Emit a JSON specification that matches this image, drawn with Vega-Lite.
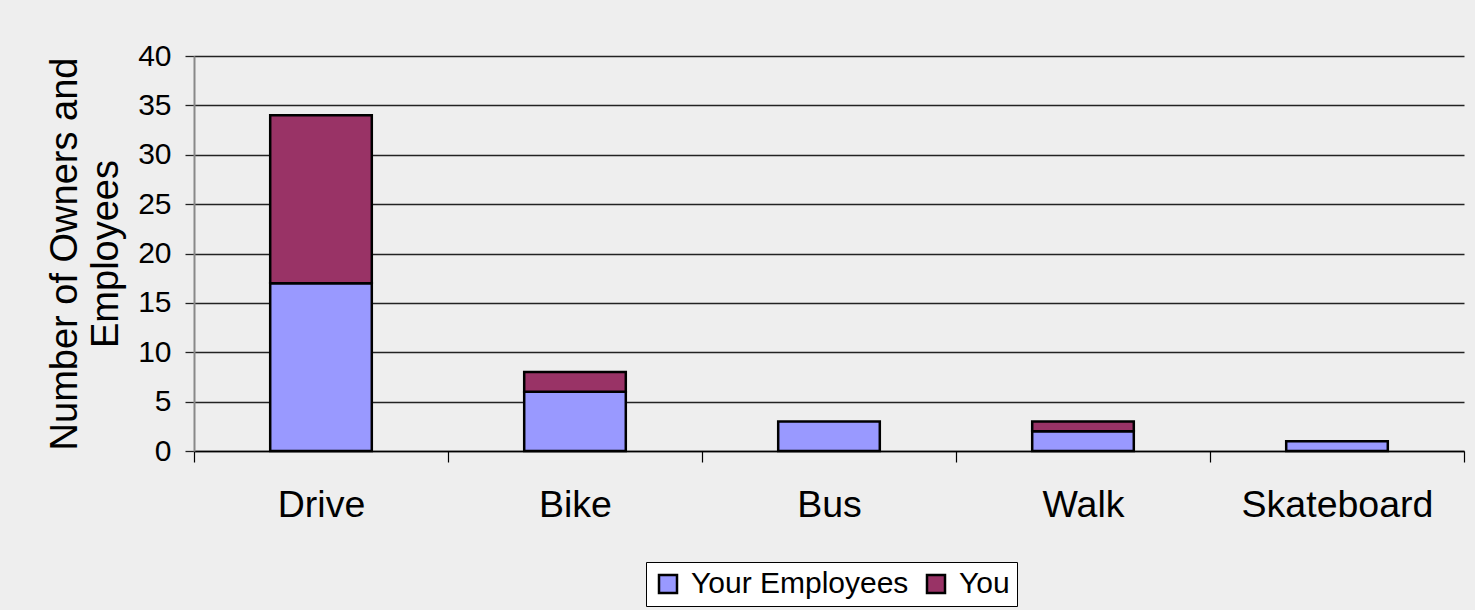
{
  "$schema": "https://vega.github.io/schema/vega-lite/v6.json",
  "autosize": {"type": "none"},
  "width": 1270,
  "height": 395,
  "padding": {"left": 194, "top": 56, "right": 11, "bottom": 159},
  "background": "#eeeeee",
  "config": {
    "font": "Liberation Sans",
    "view": {"stroke": null}
  },
  "data": {
    "values": [
      {"mode": "Drive", "group": "Your Employees", "ord": 1, "count": 17},
      {"mode": "Drive", "group": "You", "ord": 2, "count": 17},
      {"mode": "Bike", "group": "Your Employees", "ord": 1, "count": 6},
      {"mode": "Bike", "group": "You", "ord": 2, "count": 2},
      {"mode": "Bus", "group": "Your Employees", "ord": 1, "count": 3},
      {"mode": "Walk", "group": "Your Employees", "ord": 1, "count": 2},
      {"mode": "Walk", "group": "You", "ord": 2, "count": 1},
      {"mode": "Skateboard", "group": "Your Employees", "ord": 1, "count": 1}
    ]
  },
  "mark": {"type": "bar", "stroke": "#000000", "strokeWidth": 2.5, "width": {"band": 0.4}},
  "encoding": {
    "x": {
      "field": "mode",
      "type": "nominal",
      "sort": ["Drive", "Bike", "Bus", "Walk", "Skateboard"],
      "scale": {"paddingInner": 0, "paddingOuter": 0},
      "axis": {
        "title": null,
        "labelAngle": 0,
        "labelFontSize": 37.5,
        "labelColor": "#000000",
        "labelPadding": 24,
        "labelLimit": 0,
        "tickBand": "extent",
        "tickSize": 11,
        "tickColor": "#000000",
        "tickWidth": 1.2,
        "domainColor": "#000000",
        "domainWidth": 1.5
      }
    },
    "y": {
      "field": "count",
      "type": "quantitative",
      "stack": "zero",
      "scale": {"domain": [0, 40], "nice": false},
      "axis": {
        "values": [0, 5, 10, 15, 20, 25, 30, 35, 40],
        "title": ["Number of Owners and", "Employees"],
        "titleFontSize": 38,
        "titleFontWeight": "normal",
        "titleColor": "#000000",
        "titleLineHeight": 41,
        "titlePadding": 12,
        "labelFontSize": 30,
        "labelColor": "#000000",
        "labelPadding": 14,
        "tickSize": 9,
        "tickColor": "#222222",
        "tickWidth": 1.3,
        "domainColor": "#888888",
        "domainWidth": 2,
        "grid": true,
        "gridColor": "#222222",
        "gridWidth": 1.3
      }
    },
    "color": {
      "field": "group",
      "type": "nominal",
      "scale": {"domain": ["Your Employees", "You"], "range": ["#9999ff", "#993366"]},
      "legend": {
        "title": null,
        "orient": "none",
        "legendX": 452,
        "legendY": 506,
        "direction": "horizontal",
        "fillColor": "#ffffff",
        "strokeColor": "#000000",
        "padding": 7,
        "symbolType": "square",
        "symbolSize": 324,
        "symbolStrokeColor": "#000000",
        "symbolStrokeWidth": 2.5,
        "symbolOpacity": 1,
        "labelFontSize": 30,
        "labelColor": "#000000",
        "labelOffset": 8,
        "labelLimit": 0,
        "columnPadding": 12
      }
    },
    "order": {"field": "ord", "type": "quantitative"}
  }
}
